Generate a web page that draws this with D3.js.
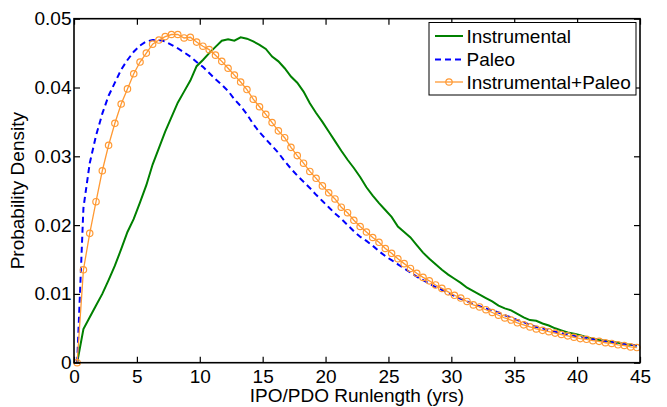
<!DOCTYPE html>
<html>
<head>
<meta charset="utf-8">
<script src="https://cdn.jsdelivr.net/npm/d3@7"></script>
<style>
  html, body { margin: 0; padding: 0; background: #fff; }
  svg { display: block; font-family: "Liberation Sans", Arial, Helvetica, sans-serif; }
</style>
</head>
<body>
<svg id="chart" width="667" height="407"></svg>
<script>
// Bin centers (yrs)
const runlength = d3.range(90).map(i => 0.25 + 0.5 * i);

const instrumental = [
  0, 0.0049, 0.0066, 0.0083, 0.0100, 0.0120, 0.0141, 0.0165, 0.0190, 0.0209,
  0.0233, 0.0258, 0.0288, 0.0312, 0.0336, 0.0357, 0.0378, 0.0394, 0.0410, 0.0431,
  0.0440, 0.0450, 0.0459, 0.0468, 0.0470, 0.0468, 0.0473, 0.0471, 0.0467, 0.0462,
  0.0456, 0.0445, 0.0438, 0.0428, 0.0416, 0.0407, 0.0394, 0.0377, 0.0363, 0.0350,
  0.0336, 0.0322, 0.0308, 0.0295, 0.0283, 0.0270, 0.0255, 0.0243, 0.0232, 0.0222,
  0.0212, 0.0198, 0.0190, 0.0182, 0.0171, 0.0160, 0.0151, 0.0143, 0.0135, 0.0128,
  0.0122, 0.0116, 0.0109, 0.0104, 0.0099, 0.0094, 0.0089, 0.0083, 0.0079, 0.0076,
  0.0071, 0.0066, 0.0062, 0.0061, 0.0057, 0.0054, 0.0050, 0.0047, 0.0044, 0.0042,
  0.0040, 0.0037, 0.0035, 0.0033, 0.0032, 0.0030, 0.0029, 0.0027, 0.0026, 0.0025
];

const paleo = [
  0, 0.0225, 0.0290, 0.0330, 0.0362, 0.0388, 0.0407, 0.0426, 0.0440, 0.0452,
  0.0461, 0.0467, 0.0469, 0.0469, 0.0467, 0.0462, 0.0457, 0.0451, 0.0445, 0.0437,
  0.0430, 0.0421, 0.0412, 0.0404, 0.0395, 0.0383, 0.0373, 0.0361, 0.0347, 0.0335,
  0.0325, 0.0315, 0.0305, 0.0293, 0.0282, 0.0272, 0.0263, 0.0254, 0.0244, 0.0235,
  0.0226, 0.0217, 0.0209, 0.0200, 0.0191, 0.0183, 0.0177, 0.0170, 0.0162, 0.0155,
  0.0149, 0.0143, 0.0137, 0.0131, 0.0125, 0.0120, 0.0115, 0.0110, 0.0106, 0.0101,
  0.0097, 0.0093, 0.0089, 0.0085, 0.0082, 0.0079, 0.0076, 0.0073, 0.0069, 0.0066,
  0.0062, 0.0059, 0.0055, 0.0052, 0.0050, 0.0047, 0.0045, 0.0043, 0.0041, 0.0039,
  0.0037, 0.0036, 0.0034, 0.0033, 0.0031, 0.0030, 0.0028, 0.0027, 0.0026, 0.0025
];

const combined = [
  0, 0.0135, 0.0188, 0.0234, 0.0279, 0.0316, 0.0348, 0.0376, 0.0398, 0.0420,
  0.0437, 0.0450, 0.0463, 0.0469, 0.0474, 0.0477, 0.0477, 0.0472, 0.0473, 0.0466,
  0.0460, 0.0455, 0.0447, 0.0438, 0.0428, 0.0418, 0.0408, 0.0397, 0.0383, 0.0372,
  0.0361, 0.0349, 0.0337, 0.0327, 0.0313, 0.0301, 0.0290, 0.0278, 0.0268, 0.0257,
  0.0247, 0.0238, 0.0226, 0.0218, 0.0207, 0.0198, 0.0190, 0.0182, 0.0175, 0.0166,
  0.0159, 0.0151, 0.0144, 0.0137, 0.0130, 0.0124, 0.0119, 0.0113, 0.0108, 0.0103,
  0.0098, 0.0094, 0.0089, 0.0084, 0.0081, 0.0077, 0.0073, 0.0069, 0.0065, 0.0062,
  0.0058, 0.0055, 0.0052, 0.0049, 0.0047, 0.0045, 0.0043, 0.0041, 0.0039, 0.0037,
  0.0035, 0.0034, 0.0032, 0.0031, 0.0029, 0.0028, 0.0026, 0.0025, 0.0023, 0.0022
];

const xTicks = [0, 5, 10, 15, 20, 25, 30, 35, 40, 45];
const yTicks = [0, 0.01, 0.02, 0.03, 0.04, 0.05];
const seriesNames = ["Instrumental", "Paleo", "Instrumental+Paleo"];
const seriesColors = ["#008000", "#0000ff", "#ff9933"];

const svg = d3.select("#chart");
const margin = { left: 74, right: 27, top: 18.7, bottom: 44.3 };
const W = 667, H = 407;
const x = d3.scaleLinear().domain([0, 45]).range([margin.left, W - margin.right]);
const y = d3.scaleLinear().domain([0, 0.05]).range([H - margin.bottom, margin.top]);

const fontSize = 19;
const tickLen = 6;

// Clip
svg.append("clipPath").attr("id", "clip").append("rect")
  .attr("x", x(0)).attr("y", y(0.05)).attr("width", x(45) - x(0)).attr("height", y(0) - y(0.05));

const plot = svg.append("g").attr("clip-path", "url(#clip)");

const line = (vals) => d3.line().x((d, i) => x(runlength[i])).y(d => y(d))(vals);

plot.append("path").attr("d", line(instrumental))
  .attr("fill", "none").attr("stroke", seriesColors[0]).attr("stroke-width", 2);
plot.append("path").attr("d", line(paleo))
  .attr("fill", "none").attr("stroke", seriesColors[1]).attr("stroke-width", 2)
  .attr("stroke-dasharray", "6,4");
plot.append("path").attr("d", line(combined))
  .attr("fill", "none").attr("stroke", seriesColors[2]).attr("stroke-width", 1.3);
svg.append("g").selectAll("circle").data(combined).join("circle")
  .attr("cx", (d, i) => x(runlength[i])).attr("cy", d => y(d)).attr("r", 3.2)
  .attr("fill", "none").attr("stroke", seriesColors[2]).attr("stroke-width", 1.2);

// Axes (inward ticks, mirrored)
const axisStyle = g => {
  g.select(".domain").remove();
  g.selectAll("line").attr("stroke", "#000").attr("stroke-width", 1.2);
  g.selectAll("text").attr("font-size", fontSize).attr("fill", "#000")
    .attr("font-family", '"Liberation Sans", Arial, sans-serif');
};

svg.append("g").attr("transform", `translate(0,${y(0)})`)
  .call(d3.axisBottom(x).tickValues(xTicks).tickFormat(d3.format("d")).tickSizeInner(-tickLen).tickPadding(6.5))
  .call(axisStyle);
svg.append("g").attr("transform", `translate(0,${y(0.05)})`)
  .call(d3.axisTop(x).tickValues(xTicks).tickFormat("").tickSizeInner(-tickLen))
  .call(axisStyle);
svg.append("g").attr("transform", `translate(${x(0)},0)`)
  .call(d3.axisLeft(y).tickValues(yTicks).tickFormat(d => d === 0 ? "0" : d3.format(".2f")(d)).tickSizeInner(-tickLen).tickPadding(2.5))
  .call(axisStyle);
svg.append("g").attr("transform", `translate(${x(45)},0)`)
  .call(d3.axisRight(y).tickValues(yTicks).tickFormat("").tickSizeInner(-tickLen))
  .call(axisStyle);

// Box
svg.append("rect")
  .attr("x", x(0)).attr("y", y(0.05)).attr("width", x(45) - x(0)).attr("height", y(0) - y(0.05))
  .attr("fill", "none").attr("stroke", "#000").attr("stroke-width", 1.6);

// Axis labels
svg.append("text").attr("x", (x(0) + x(45)) / 2).attr("y", 402)
  .attr("text-anchor", "middle").attr("font-size", fontSize).text("IPO/PDO Runlength (yrs)");
svg.append("text").attr("transform", `translate(24,${(y(0) + y(0.05)) / 2}) rotate(-90)`)
  .attr("text-anchor", "middle").attr("font-size", fontSize).text("Probability Density");

// Legend
const lg = svg.append("g");
lg.append("rect").attr("x", 429).attr("y", 22.5).attr("width", 207).attr("height", 72.5)
  .attr("fill", "#fff").attr("stroke", "#000").attr("stroke-width", 1);
const rowsY = [36, 59.5, 82];
seriesNames.forEach((name, i) => {
  const ly = rowsY[i];
  const l = lg.append("line").attr("x1", 435).attr("x2", 463).attr("y1", ly).attr("y2", ly)
    .attr("stroke", seriesColors[i]).attr("stroke-width", i === 2 ? 1.3 : 2);
  if (i === 1) l.attr("stroke-dasharray", "6,4");
  if (i === 2) lg.append("circle").attr("cx", 449).attr("cy", ly).attr("r", 3.2)
    .attr("fill", "none").attr("stroke", seriesColors[i]).attr("stroke-width", 1.2);
  lg.append("text").attr("x", 466.5).attr("y", ly).attr("dy", "0.35em")
    .attr("font-size", fontSize).text(name);
});
</script>
</body>
</html>
